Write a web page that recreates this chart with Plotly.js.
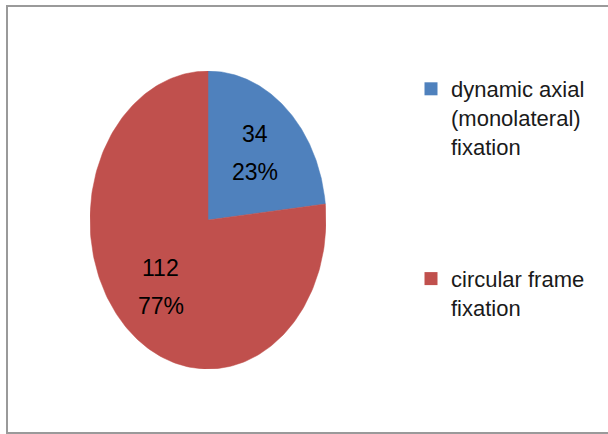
<!DOCTYPE html>
<html>
<head>
<meta charset="utf-8">
<script src="https://cdn.plot.ly/plotly-3.0.1.min.js"></script>
<style>
html,body{margin:0;padding:0;background:#fff;}
#chart{width:608px;height:434px;}
</style>
</head>
<body>
<div id="chart"></div>
<script>
// ---- data ----
const categories = ['dynamic axial (monolateral) fixation', 'circular frame fixation'];
const legendLabels = ['dynamic axial<br>(monolateral)<br>fixation', 'circular frame<br>fixation'];
const values = [34, 112];
const colors = ['#4F81BD', '#C0504D'];

// ---- build elliptical pie from the data ----
const total = values.reduce((a, b) => a + b, 0);
const traces = [];
const annotations = [];
const FONT = '"Liberation Sans Narrow", "Arial Narrow", "Liberation Sans", sans-serif';
let cum = 0;
values.forEach((v, i) => {
  const a0 = cum / total * 2 * Math.PI;
  const a1 = (cum + v) / total * 2 * Math.PI;
  cum += v;
  const xs = [0], ys = [0];
  const n = 200;
  for (let k = 0; k <= n; k++) {
    const t = a0 + (a1 - a0) * k / n;
    xs.push(Math.sin(t));
    ys.push(Math.cos(t));
  }
  xs.push(0); ys.push(0);
  traces.push({
    type: 'scatter', x: xs, y: ys, mode: 'lines', fill: 'toself',
    fillcolor: colors[i], line: {color: colors[i], width: 0.5},
    showlegend: false, hoverinfo: 'skip', name: categories[i]
  });
  // legend entry
  traces.push({
    type: 'scatter', x: [null], y: [null], mode: 'markers',
    marker: {symbol: 'square', size: 13, color: colors[i]},
    name: legendLabels[i], legendgroup: 'g' + i, showlegend: true
  });
  const mid = (a0 + a1) / 2;
  const r = 0.6;
  const lx = r * Math.sin(mid), ly = r * Math.cos(mid);
  annotations.push({x: lx, y: ly, xref: 'x', yref: 'y', text: String(v), showarrow: false,
    yshift: 19, font: {family: FONT, size: 23, color: '#000'}});
  annotations.push({x: lx, y: ly, xref: 'x', yref: 'y', text: Math.round(v / total * 100) + '%', showarrow: false,
    yshift: -19, font: {family: FONT, size: 23, color: '#000'}});
});

const layout = {
  width: 608, height: 434,
  margin: {l: 0, r: 0, t: 0, b: 0},
  paper_bgcolor: '#fff', plot_bgcolor: '#fff',
  xaxis: {domain: [90 / 608, 326 / 608], range: [-1, 1], visible: false, fixedrange: true},
  yaxis: {domain: [1 - 369 / 434, 1 - 71 / 434], range: [-1, 1], visible: false, fixedrange: true},
  showlegend: true,
  legend: {
    x: 411 / 608, xanchor: 'left', y: 1 - 68 / 434, yanchor: 'top',
    valign: 'top', font: {family: FONT, size: 22, color: '#1a1a1a'},
    tracegroupgap: 101, bgcolor: 'rgba(0,0,0,0)'
  },
  annotations: annotations,
  shapes: [{type: 'rect', xref: 'paper', yref: 'paper',
    x0: 7 / 608, x1: 1.02, y0: 1 / 434, y1: 1 - 6 / 434,
    line: {color: '#9a9a9a', width: 2}, fillcolor: 'rgba(0,0,0,0)'}]
};

Plotly.newPlot('chart', traces, layout, {displayModeBar: false, staticPlot: true});
</script>
</body>
</html>
